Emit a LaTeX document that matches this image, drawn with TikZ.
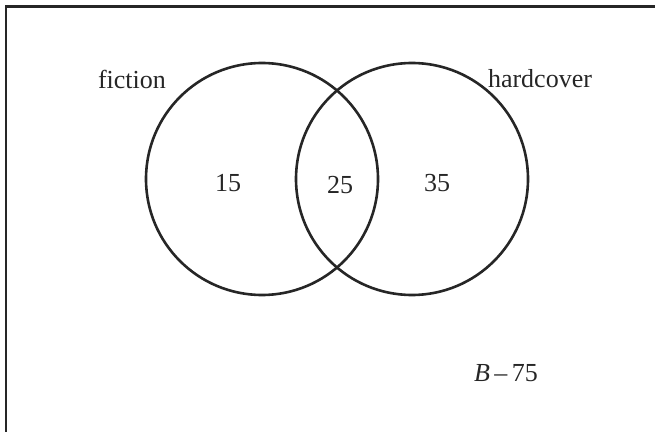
\documentclass[tikz,border=0pt]{standalone}
\usepackage{fontspec}
\setmainfont{Liberation Serif}
\begin{document}
\begin{tikzpicture}[x=1pt,y=1pt,
  ring/.style={draw=black!85,line width=2.6pt},
  lbl/.style={font=\fontsize{26}{30}\selectfont,text=black!85,inner sep=0pt}]
\useasboundingbox (0,0) rectangle (655,431);
\coordinate (bl) at (6,-5);
\coordinate (tl) at (6,424.5);
\coordinate (tr) at (665,424.5);
\begin{scope}
\clip (0,0) rectangle (655,431);
\draw[draw=black!85,line width=2.6pt] (bl) -- (tl) -- (tr);
\end{scope}
\node[ring,circle,minimum size=232pt,inner sep=0pt] (F) at (262,252) {};
\node[ring,circle,minimum size=232pt,inner sep=0pt] (H) at (412,252) {};
\node[lbl] (fic) at (132,352) {fiction};
\node[lbl] (hc) at (540,352) {hardcover};
\node[lbl] (a) at (228,248) {15};
\node[lbl] (b) at (340,246) {25};
\node[lbl] (c) at (437,248) {35};
\node[lbl] (u) at (506,58) {\textit{B}\,–\,75};
\end{tikzpicture}
\end{document}
